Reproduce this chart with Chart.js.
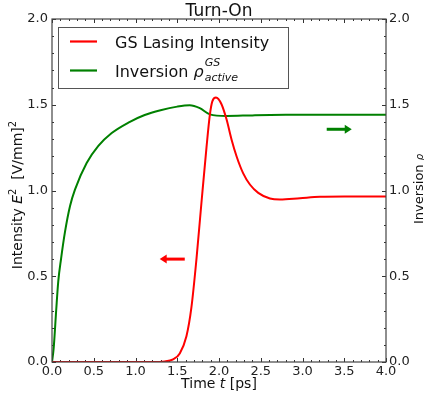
<!DOCTYPE html>
<html>
<head>
<meta charset="utf-8">
<script src="https://cdn.jsdelivr.net/npm/chart.js@4"></script>
<style>
  body { margin: 0; background: #fff; }
  #wrap { width: 424px; height: 397px; }
</style>
</head>
<body>
<div id="wrap"><canvas id="turnOn"></canvas></div>
<script>
// time axis (ps) and values
const redTime = [0, 1.2, 1.35, 1.45, 1.53, 1.61, 1.67, 1.73, 1.79, 1.85, 1.89, 1.92, 1.964, 2.03, 2.09, 2.15, 2.21, 2.29, 2.37, 2.47, 2.61, 2.73, 2.97, 3.21, 3.5, 4.0];
const redIntensity = [0, 0, 0.003, 0.015, 0.05, 0.15, 0.32, 0.6, 0.93, 1.25, 1.44, 1.52, 1.542, 1.503, 1.415, 1.298, 1.2, 1.1, 1.035, 0.986, 0.953, 0.947, 0.955, 0.963, 0.965, 0.965];

const greenTime = [0, 0.02, 0.05, 0.075, 0.108, 0.156, 0.216, 0.275, 0.415, 0.555, 0.715, 0.915, 1.11, 1.3, 1.5, 1.65, 1.77, 1.89, 2.09, 2.4, 2.8, 3.2, 4.0];
const greenInversion = [0, 0.08, 0.3, 0.47, 0.6, 0.76, 0.91, 1.005, 1.16, 1.26, 1.335, 1.396, 1.44, 1.468, 1.489, 1.497, 1.48, 1.444, 1.435, 1.438, 1.441, 1.442, 1.442];

const xTicks = [0, 0.5, 1.0, 1.5, 2.0, 2.5, 3.0, 3.5, 4.0];
const yTicks = [0, 0.5, 1.0, 1.5, 2.0];

// arrows: [fromT, toT, value]
const redArrow = [1.59, 1.29, 0.6];
const greenArrow = [3.29, 3.59, 1.357];

const FONT = '"DejaVu Sans", sans-serif';

function pts(t, v) { return t.map((x, i) => ({ x, y: v[i] })); }

const decor = {
  id: 'decor',
  beforeDatasetsDraw(chart) {
    const { ctx, chartArea: a } = chart;
    const x = chart.scales.x, y = chart.scales.y;
    ctx.save();
    ctx.strokeStyle = '#333';
    ctx.lineWidth = 1;
    // inward ticks on all four sides
    ctx.beginPath();
    for (let i = 0; i <= 40; i++) {
      const px = Math.round(x.getPixelForValue(i / 10)) + 0.5;
      const len = i % 5 === 0 ? 4 : 2;
      ctx.moveTo(px, a.bottom); ctx.lineTo(px, a.bottom - len);
      ctx.moveTo(px, a.top); ctx.lineTo(px, a.top + len);
    }
    for (let i = 0; i <= 20; i++) {
      const py = Math.round(y.getPixelForValue(i / 10)) + 0.5;
      const len = i % 5 === 0 ? 4 : 2;
      ctx.moveTo(a.left, py); ctx.lineTo(a.left + len, py);
      ctx.moveTo(a.right, py); ctx.lineTo(a.right - len, py);
    }
    ctx.stroke();
    ctx.restore();
  },
  afterDatasetsDraw(chart) {
    const { ctx, chartArea: a } = chart;
    const x = chart.scales.x, y = chart.scales.y;
    ctx.save();
    // frame
    ctx.strokeStyle = '#444';
    ctx.lineWidth = 1.2;
    ctx.strokeRect(a.left, a.top, a.right - a.left, a.bottom - a.top);

    // arrows
    function arrow(spec, color) {
      const x0 = x.getPixelForValue(spec[0]), x1 = x.getPixelForValue(spec[1]);
      const py = y.getPixelForValue(spec[2]);
      const dir = Math.sign(x1 - x0);
      ctx.strokeStyle = color; ctx.fillStyle = color; ctx.lineWidth = 3;
      ctx.beginPath(); ctx.moveTo(x0, py); ctx.lineTo(x1 - dir * 5, py); ctx.stroke();
      ctx.beginPath();
      ctx.moveTo(x1, py); ctx.lineTo(x1 - dir * 7, py - 4.5); ctx.lineTo(x1 - dir * 7, py + 4.5);
      ctx.closePath(); ctx.fill();
    }
    arrow(redArrow, '#ff0000');
    arrow(greenArrow, '#008000');

    // legend
    ctx.fillStyle = '#fff';
    ctx.fillRect(58, 27, 230, 61);
    ctx.strokeStyle = '#555'; ctx.lineWidth = 1;
    ctx.strokeRect(58.5, 27.5, 230, 61);
    ctx.lineWidth = 2.2;
    ctx.strokeStyle = '#ff0000';
    ctx.beginPath(); ctx.moveTo(70, 41.5); ctx.lineTo(97, 41.5); ctx.stroke();
    ctx.strokeStyle = '#008000';
    ctx.beginPath(); ctx.moveTo(70, 70.5); ctx.lineTo(97, 70.5); ctx.stroke();
    ctx.fillStyle = '#111';
    ctx.textBaseline = 'alphabetic';
    ctx.textAlign = 'left';
    ctx.font = '16px ' + FONT;
    ctx.fillText('GS Lasing Intensity', 115, 48);
    ctx.fillText('Inversion ', 115, 77);
    const w = ctx.measureText('Inversion ').width;
    ctx.font = 'italic 16px ' + FONT;
    ctx.fillText('\u03c1', 115 + w, 77);
    const rw = ctx.measureText('\u03c1').width;
    ctx.font = 'italic 11px ' + FONT;
    ctx.fillText('GS', 115 + w + rw + 1, 66);
    ctx.fillText('active', 115 + w + rw + 1, 81);

    // title
    ctx.textAlign = 'center';
    ctx.font = '17px ' + FONT;
    ctx.fillText('Turn-On', (a.left + a.right) / 2, 16);

    // x axis title
    ctx.font = '14px ' + FONT;
    const p1 = 'Time ', p2 = 't', p3 = ' [ps]';
    const w1 = ctx.measureText(p1).width, w3 = ctx.measureText(p3).width;
    ctx.font = 'italic 14px ' + FONT;
    const w2 = ctx.measureText(p2).width;
    let sx = (a.left + a.right) / 2 - (w1 + w2 + w3) / 2;
    ctx.textAlign = 'left';
    ctx.font = '14px ' + FONT; ctx.fillText(p1, sx, 388);
    ctx.font = 'italic 14px ' + FONT; ctx.fillText(p2, sx + w1, 388);
    ctx.font = '14px ' + FONT; ctx.fillText(p3, sx + w1 + w2, 388);

    // left y axis title
    ctx.save();
    ctx.translate(22, 195);
    ctx.rotate(-Math.PI / 2);
    const parts = [['Intensity ', '14px', 0], ['E', 'italic 14px', 0], ['2', '10px', -6], ['  [V/mm]', '14px', 0], ['2', '10px', -6]];
    let tot = 0;
    parts.forEach(p => { ctx.font = p[1] + ' ' + FONT; tot += ctx.measureText(p[0]).width; });
    let ox = -tot / 2;
    parts.forEach(p => {
      ctx.font = p[1] + ' ' + FONT;
      ctx.fillText(p[0], ox, p[2]);
      ox += ctx.measureText(p[0]).width;
    });
    ctx.restore();

    // right y axis title
    ctx.save();
    ctx.translate(423, 189);
    ctx.rotate(-Math.PI / 2);
    ctx.font = '13px ' + FONT;
    const r1 = 'Inversion ';
    const rw1 = ctx.measureText(r1).width;
    ctx.font = 'italic 10px ' + FONT;
    const rw2 = ctx.measureText('\u03c1').width;
    let rx = -(rw1 + rw2) / 2;
    ctx.font = '13px ' + FONT; ctx.fillText(r1, rx, 0);
    ctx.font = 'italic 10px ' + FONT; ctx.fillText('\u03c1', rx + rw1, 0);
    ctx.restore();

    ctx.restore();
  }
};

const tickFmt = v => Number(v).toFixed(1);

new Chart(document.getElementById('turnOn'), {
  type: 'line',
  data: {
    datasets: [
      { label: 'GS Lasing Intensity', data: pts(redTime, redIntensity), borderColor: '#ff0000', borderWidth: 2, pointRadius: 0, cubicInterpolationMode: 'monotone', yAxisID: 'y' },
      { label: 'Inversion', data: pts(greenTime, greenInversion), borderColor: '#008000', borderWidth: 2, pointRadius: 0, cubicInterpolationMode: 'monotone', yAxisID: 'y' }
    ]
  },
  options: {
    responsive: true,
    maintainAspectRatio: false,
    animation: false,
    layout: { padding: { top: 19, left: 0, right: 0, bottom: 0 } },
    plugins: { legend: { display: false }, title: { display: false }, tooltip: { enabled: false } },
    scales: {
      x: {
        type: 'linear', min: 0, max: 4,
        afterBuildTicks: s => { s.ticks = xTicks.map(v => ({ value: v })); },
        afterFit: s => { s.height = 35; },
        grid: { display: false, drawTicks: false }, border: { display: false },
        ticks: { callback: tickFmt, padding: 2, color: '#222', font: { family: FONT, size: 13 }, maxRotation: 0, autoSkip: false }
      },
      y: {
        type: 'linear', position: 'left', min: 0, max: 2,
        afterBuildTicks: s => { s.ticks = yTicks.map(v => ({ value: v })); },
        afterFit: s => { s.width = 52; },
        grid: { display: false, drawTicks: false }, border: { display: false },
        ticks: { callback: tickFmt, padding: 4, color: '#222', font: { family: FONT, size: 13 } }
      },
      y2: {
        type: 'linear', position: 'right', min: 0, max: 2,
        afterBuildTicks: s => { s.ticks = yTicks.map(v => ({ value: v })); },
        afterFit: s => { s.width = 38; },
        grid: { display: false, drawTicks: false }, border: { display: false },
        ticks: { callback: tickFmt, padding: 3, color: '#222', font: { family: FONT, size: 13 } }
      }
    }
  },
  plugins: [decor]
});
</script>
</body>
</html>
